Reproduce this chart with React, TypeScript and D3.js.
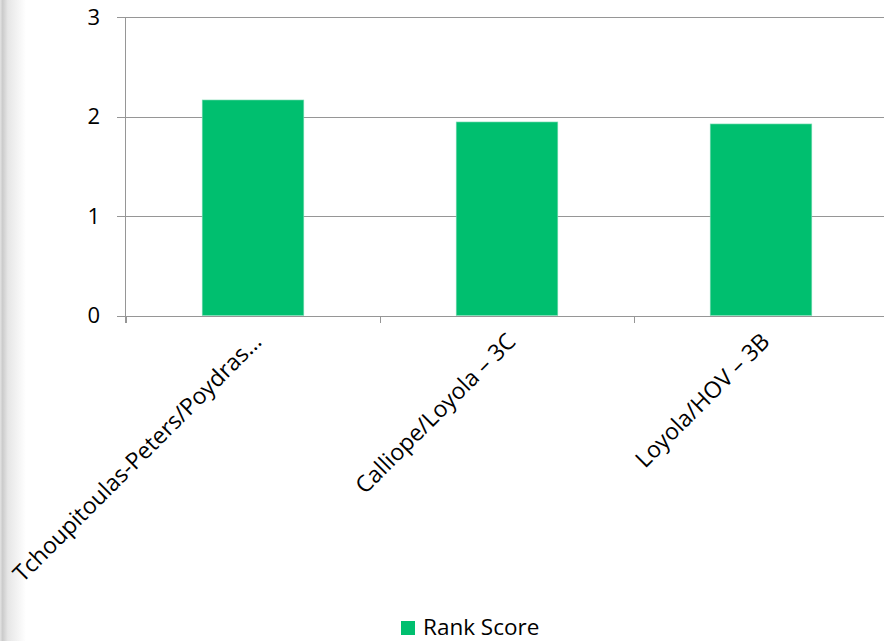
import React from "react";
import * as d3 from "d3";

const categories = ["Tchoupitoulas-Peters/Poydras…", "Calliope/Loyola – 3C", "Loyola/HOV – 3B"];
const rankScore = [2.166, 1.945, 1.925];
const yTicks = [0, 1, 2, 3];
const seriesName = "Rank Score";

const W = 884;
const H = 641;
const FONT = "'Open Sans', sans-serif";
const GREEN = "#00BF6F";
const GRID = "#969696";

export default function App() {
  const x = d3.scaleBand<string>().domain(categories).range([126, 888]).paddingInner(0.6).paddingOuter(0.3);
  const y = d3.scaleLinear().domain([0, 3]).range([315.5, 17]);
  const step = x.step();
  const left = 126;
  const right = 888;
  const catEdges = d3.range(categories.length).map((i) => left + i * step);

  return (
    <svg width={W} height={H} style={{ position: "absolute", left: 0, top: 0, background: "#fff" }}>
      <defs>
        <linearGradient id="edge" x1="0" x2="1" y1="0" y2="0">
          <stop offset="0%" stopColor="#e4e4e4" />
          <stop offset="10%" stopColor="#cbcbcb" />
          <stop offset="30%" stopColor="#e6e6e6" />
          <stop offset="100%" stopColor="#ffffff" />
        </linearGradient>
      </defs>
      <rect x={0} y={0} width={W} height={H} fill="#fff" />
      <rect x={0} y={0} width={26} height={H} fill="url(#edge)" />
      {yTicks.map((t) => (
        <g key={t}>
          <line x1={117} x2={right} y1={Math.round(y(t)) + 0.5} y2={Math.round(y(t)) + 0.5} stroke={GRID} strokeWidth={1} />
          <text x={100} y={y(t)} dy="0.36em" textAnchor="end" fontFamily={FONT} fontSize={22} fill="#000">
            {t}
          </text>
        </g>
      ))}
      <line x1={125.5} x2={125.5} y1={17} y2={323} stroke={GRID} strokeWidth={1} />
      {catEdges.map((cx, i) => (
        <line key={i} x1={Math.round(cx) + 0.5} x2={Math.round(cx) + 0.5} y1={316} y2={323} stroke={GRID} strokeWidth={1} />
      ))}
      {categories.map((c, i) => (
        <rect
          key={c}
          x={x(c)!}
          y={y(rankScore[i])}
          width={x.bandwidth()}
          height={y(0) - y(rankScore[i])}
          fill={GREEN}
          stroke="#7fdcb5"
          strokeWidth={0.6}
        />
      ))}
      {categories.map((c) => {
        const cx = x(c)! + x.bandwidth() / 2;
        return (
          <text
            key={c}
            transform={`translate(${cx + 10},${343}) rotate(-45)`}
            textAnchor="end"
            fontFamily={FONT}
            fontSize={23}
            fill="#000"
          >
            {c}
          </text>
        );
      })}
      <rect x={401} y={621} width={14} height={14} fill={GREEN} />
      <text x={423} y={635} fontFamily={FONT} fontSize={22.5} fill="#000">
        {seriesName}
      </text>
    </svg>
  );
}
